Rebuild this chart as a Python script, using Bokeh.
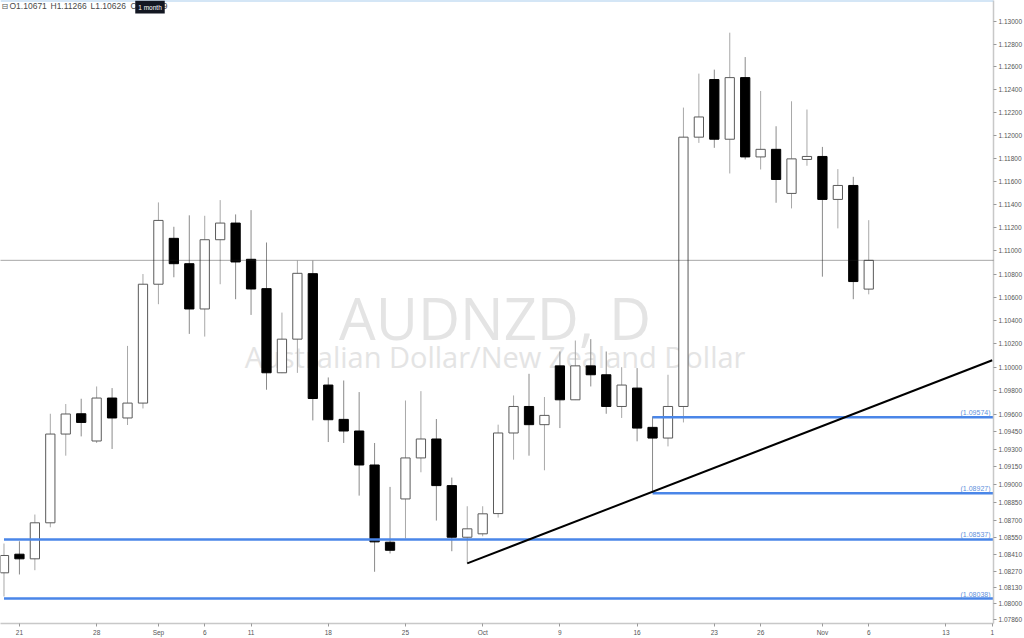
from bokeh.plotting import figure
from bokeh.models import ColumnDataSource, FixedTicker, PrintfTickFormatter, Range1d, Span, Label
from bokeh.embed import file_html
from bokeh.resources import INLINE
from bokeh.core.properties import value

# ---- data (AUDNZD daily, Aug 18 - Nov 6) ----
day_idx = list(range(57))
opens = [1.08255, 1.08412, 1.08373, 1.08677, 1.09430, 1.09603, 1.09371, 1.09737, 1.09567, 1.09694,
         1.10713, 1.11109, 1.10890, 1.10500, 1.11097, 1.11241, 1.10928, 1.10675, 1.09953, 1.10241,
         1.10804, 1.09848, 1.09555, 1.09456, 1.09167, 1.08513, 1.08879, 1.09227, 1.09388, 1.08992,
         1.08555, 1.08584, 1.08755, 1.09439, 1.09665, 1.09510, 1.10012, 1.09722, 1.10012, 1.09936,
         1.09665, 1.09822, 1.09487, 1.09396, 1.09665, 1.11987, 1.12490, 1.11969, 1.12507, 1.11815,
         1.11881, 1.11498, 1.11793, 1.11819, 1.11446, 1.11567, 1.10671]
highs = [1.08502, 1.08521, 1.08747, 1.09603, 1.09686, 1.09731, 1.09836, 1.09822, 1.10183, 1.10801,
         1.11420, 1.11209, 1.11308, 1.11304, 1.11440, 1.11316, 1.11353, 1.11073, 1.10469, 1.10916,
         1.10916, 1.09913, 1.09887, 1.09788, 1.09354, 1.08981, 1.09716, 1.09796, 1.09558, 1.09060,
         1.08817, 1.08817, 1.09510, 1.09759, 1.09944, 1.09746, 1.10135, 1.10229, 1.10241, 1.10135,
         1.10001, 1.09993, 1.09580, 1.09936, 1.12245, 1.12542, 1.12577, 1.12901, 1.12687, 1.12390,
         1.12082, 1.12300, 1.12228, 1.11902, 1.11709, 1.11642, 1.11266]
lows = [1.08056, 1.08241, 1.08277, 1.08639, 1.09246, 1.09410, 1.09354, 1.09303, 1.09507, 1.09648,
        1.10541, 1.10773, 1.10286, 1.10263, 1.10713, 1.10584, 1.10449, 1.09808, 1.09950, 1.09952,
        1.09546, 1.09362, 1.09354, 1.08907, 1.08264, 1.08418, 1.08544, 1.09105, 1.08696, 1.08437,
        1.08334, 1.08563, 1.08721, 1.09212, 1.09246, 1.09122, 1.09481, 1.09720, 1.09836, 1.09603,
        1.09567, 1.09368, 1.08930, 1.09325, 1.09529, 1.11937, 1.11894, 1.11671, 1.11793, 1.11706,
        1.11417, 1.11368, 1.11738, 1.10778, 1.11195, 1.10584, 1.10626]
closes = [1.08401, 1.08373, 1.08677, 1.09430, 1.09601, 1.09529, 1.09737, 1.09567, 1.09694, 1.10713,
          1.11264, 1.10890, 1.10500, 1.11097, 1.11241, 1.10905, 1.10672, 1.09953, 1.10241, 1.10807,
          1.09733, 1.09552, 1.09456, 1.09167, 1.08516, 1.08445, 1.09227, 1.09388, 1.08992, 1.08555,
          1.08626, 1.08753, 1.09439, 1.09665, 1.09510, 1.09589, 1.09722, 1.10012, 1.09936, 1.09665,
          1.09848, 1.09481, 1.09396, 1.09665, 1.11987, 1.12163, 1.11969, 1.12507, 1.11815, 1.11881,
          1.11619, 1.11798, 1.11819, 1.11446, 1.11567, 1.10736, 1.10919]

x_tick_pos = [1, 6, 10, 13, 16, 21, 26, 31, 36, 41, 46, 49, 53, 56, 61, 64]
x_tick_labels = ["21", "28", "Sep", "6", "11", "18", "25", "Oct", "9", "16", "23", "26", "Nov", "6", "13", "1"]
y_ticks = [1.130, 1.128, 1.126, 1.124, 1.122, 1.120, 1.118, 1.116, 1.114, 1.112, 1.110, 1.108,
           1.106, 1.104, 1.102, 1.100, 1.098, 1.096, 1.0945, 1.093, 1.0915, 1.090, 1.0885, 1.087,
           1.0855, 1.0841, 1.0827, 1.0813, 1.080, 1.0786]

levels = [1.09574, 1.08927, 1.08537, 1.08038]
level_start = [42, 42, 0, 0]
trend_x = [30, 64]
trend_y = [1.08334, 1.10060]
last_price = closes[-1]

symbol_text = "AUDNZD, D"
name_text = "Australian Dollar/New Zealand Dollar"

# ---- figure ----
X0, X1 = -0.226, 64.08
Y0, Y1 = 1.07829, 1.13184
p = figure(width=1024, height=638, x_range=Range1d(X0, X1), y_range=Range1d(Y0, Y1),
           y_axis_type="log", y_axis_location="right",
           output_backend="svg", toolbar_location=None)
p.min_border_left = 0
p.min_border_top = 0
p.min_border_bottom = 0
p.min_border_right = 0
p.outline_line_color = None
p.xgrid.visible = False
p.ygrid.visible = False
p.background_fill_color = "white"
p.border_fill_color = "white"

for ax in (p.xaxis[0], p.yaxis[0]):
    ax.axis_line_color = "#c8c8c8"
    ax.axis_line_width = 1.5
    ax.major_tick_line_color = "#9a9a9a"
    ax.major_tick_in = 0
    ax.major_tick_out = 3
    ax.minor_tick_out = 0
    ax.minor_tick_in = 0
    ax.major_label_text_font_size = "6.5px"
    ax.major_label_text_color = "#555555"
    ax.major_label_text_font = "Liberation Sans"
    ax.major_label_standoff = 2

p.yaxis.ticker = FixedTicker(ticks=y_ticks)
p.yaxis.formatter = PrintfTickFormatter(format="%.5f")
p.xaxis.ticker = FixedTicker(ticks=x_tick_pos)
p.xaxis.major_label_overrides = {pos: lab for pos, lab in zip(x_tick_pos, x_tick_labels)}

# ---- watermark ----
mark_x = 31.8
p.text(x=[mark_x], y=[1.10423], text=[symbol_text], text_font=value("Open Sans"),
       text_font_size="58px", text_color="#e4e4e4", text_align="center", text_baseline="alphabetic")
p.text(x=[mark_x], y=[1.10089], text=[name_text], text_font=value("Open Sans"),
       text_font_size="29px", text_color="#e4e4e4", text_align="center", text_baseline="alphabetic")

# ---- current price dotted line ----
p.add_layout(Span(location=last_price, dimension="width", line_color="#222222",
                  line_width=0.8, line_dash="1 1"))

# ---- candles ----
up = [c >= o for o, c in zip(opens, closes)]
src = ColumnDataSource(dict(
    x=day_idx, high=highs, low=lows,
    top=[max(o, c) for o, c in zip(opens, closes)],
    bottom=[min(o, c) for o, c in zip(opens, closes)],
    fill=["#ffffff" if u else "#000000" for u in up],
    line=["#5a5a5a" if u else "#000000" for u in up],
    wick=["#a8a8a8" if u else "#8a8a8a" for u in up],
))
p.segment(x0="x", y0="high", x1="x", y1="low", line_color="wick", line_width=1, source=src)
p.vbar(x="x", width=0.6, top="top", bottom="bottom", fill_color="fill", line_color="line",
       line_width=1, source=src)

# ---- horizontal levels ----
p.segment(x0=level_start, y0=levels, x1=[X1] * len(levels), y1=levels,
          line_color="#4a86e8", line_width=2.5)
p.text(x=[X1] * len(levels), y=levels, text=[f"({v:.5f})" for v in levels],
       x_offset=-3, y_offset=-1, text_font=value("Liberation Sans"), text_font_size="7px",
       text_color="#5f91dc", text_align="right", text_baseline="bottom")

# ---- trend line ----
p.line(trend_x, trend_y, line_color="#000000", line_width=2)

# ---- top border ----
p.add_layout(Span(location=Y1, dimension="width", line_color="#a9cdee", line_width=2))

# ---- header ----
hdr_y = 1.13132
p.add_layout(Label(x=1, y=hdr_y, x_units="screen", text="\u229f", text_font="DejaVu Sans",
                   text_font_size="8px", text_color="#555555", text_baseline="middle"))
hdr_items = [f"O{opens[-1]:.5f}", f"H{highs[-1]:.5f}", f"L{lows[-1]:.5f}", f"C{closes[-1]:.5f}"]
hdr_x = [9, 50, 90, 130]
for hx, ht in zip(hdr_x, hdr_items):
    p.add_layout(Label(x=hx, y=hdr_y, x_units="screen", text=ht, text_font="Liberation Sans",
                       text_font_size="8.5px", text_color="#4a4a4a", text_baseline="middle"))
p.add_layout(Label(x=149.5, y=1.13126, x_units="screen", text="1 month", text_font="Liberation Sans",
                   text_font_size="6.5px", text_color="#ffffff", text_align="center",
                   text_baseline="middle", background_fill_color="#131722", padding=3))

open("out.html", "w").write(file_html(p, INLINE))
